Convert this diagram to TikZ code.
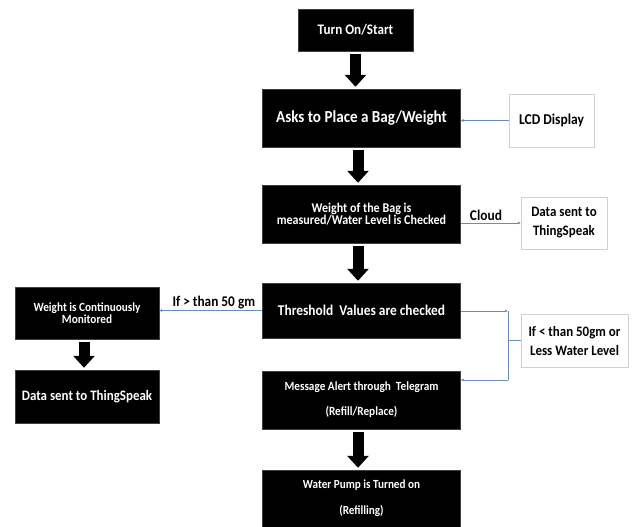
\documentclass[tikz,border=0pt]{standalone}
\usepackage{fontspec}
\setmainfont{Carlito}[FakeStretch=0.9]
\usetikzlibrary{arrows.meta}
\definecolor{linkblue}{RGB}{105,140,190}

\begin{document}
\begin{tikzpicture}[x=1pt, y=-1pt,
  blackbox/.style={draw=black!75, fill=black, text=white, align=center, inner sep=0pt},
  whitebox/.style={draw=black!18, fill=white, text=black, align=center, inner sep=0pt},
  bigarrow/.style={line width=11pt, -{Triangle[width=21pt, length=12pt]}, shorten <=3pt, shorten >=2pt},
  link/.style={draw=linkblue, line width=0.6pt},
  linkarrow/.style={link, -{Latex[length=3pt, width=3pt]}}]
  \useasboundingbox (0,0) rectangle (633,527);
  \fill[white] (0,0) rectangle (633,527);
  % main column
  \node[blackbox, minimum width=115pt, minimum height=42pt, font=\fontsize{14.6}{16}\selectfont\bfseries] (start) at (355.5,30) {Turn On/Start};
  \node[blackbox, minimum width=198pt, minimum height=58pt, font=\fontsize{16.8}{20}\selectfont\bfseries] (ask) at (361.5,118) {Asks to Place a Bag/Weight};
  \node[blackbox, minimum width=198pt, minimum height=58pt, font=\fontsize{13.4}{12}\selectfont\bfseries] (weigh) at (361.5,214) {Weight of the Bag is\\measured/Water Level is Checked};
  \node[blackbox, minimum width=198pt, minimum height=55pt, font=\fontsize{14.9}{17}\selectfont\bfseries] (thresh) at (361.5,310.5) {Threshold\ \ Values are checked};
  \node[blackbox, minimum width=198pt, minimum height=58pt, font=\fontsize{12.5}{25}\selectfont\bfseries] (alert) at (361.5,400) {Message Alert through\ \ Telegram\\(Refill/Replace)};
  \node[blackbox, minimum width=198pt, minimum height=57pt, font=\fontsize{12.4}{26}\selectfont\bfseries] (pump) at (361.5,498.5) {Water Pump is Turned on\\(Refilling)};
  % side boxes
  \node[whitebox, minimum width=85pt, minimum height=53pt, font=\fontsize{15}{17}\selectfont\bfseries] (lcd) at (551.5,120.5) {LCD Display};
  \node[whitebox, minimum width=86pt, minimum height=52pt, font=\fontsize{14.4}{19}\selectfont\bfseries] (cloud) at (564,223) {Data sent to\\ThingSpeak};
  \node[whitebox, minimum width=107pt, minimum height=53pt, font=\fontsize{14.4}{19}\selectfont\bfseries] (cond) at (574.5,340.5) {If < than 50gm or\\Less Water Level};
  \node[blackbox, minimum width=144pt, minimum height=52pt, font=\fontsize{12.5}{12}\selectfont\bfseries] (monitor) at (87,313) {Weight is Continuously\\Monitored};
  \node[blackbox, minimum width=144pt, minimum height=53pt, font=\fontsize{14.4}{17}\selectfont\bfseries] (sendleft) at (87,396.5) {Data sent to ThingSpeak};
  % block arrows
  \draw[bigarrow] (start.south) -- (start.south |- ask.north);
  \foreach \a/\b in {ask/weigh, weigh/thresh, alert/pump}
    \draw[bigarrow] ([xshift=-3.5pt]\a.south) -- ([xshift=-3.5pt]\b.north);
  \draw[bigarrow] ([xshift=-3pt]monitor.south) -- ([xshift=-3pt]sendleft.north);
  % thin connectors
  \draw[linkarrow] (lcd.west) -- (lcd.west -| ask.east);
  \draw[linkarrow] (weigh.east |- cloud.west) -- node[pos=0.42, above, inner sep=2pt, font=\fontsize{14.9}{17}\selectfont\bfseries] (cloudlbl) {Cloud} (cloud.west);
  \draw[linkarrow] (thresh.west) -- node[pos=0.47, above, inner sep=1.5pt, font=\fontsize{14.8}{16}\selectfont\bfseries] (gtlbl) {If > than 50 gm} (thresh.west -| monitor.east);
  \coordinate (jt) at (508,311);
  \coordinate (jb) at (508,380);
  \draw[linkarrow] (thresh.east |- jt) -- (jt);
  \draw[link] (jt) -- (jb);
  \draw[link] (cond.west) -- (cond.west -| jt);
  \draw[linkarrow] (jb) -- (jb -| alert.east);
\end{tikzpicture}
\end{document}
